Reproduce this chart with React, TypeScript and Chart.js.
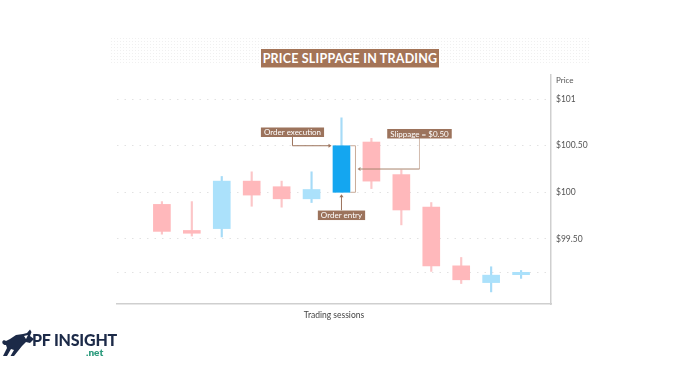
import React, { useEffect, useRef } from "react";
import { Chart, registerables } from "chart.js";

Chart.register(...registerables);

const sessions = [0, 1, 2, 3, 4, 5, 6, 7, 8, 9, 10, 11, 12];
const opens = [99.87, 99.59, 99.61, 100.12, 100.06, 99.93, 100.0, 100.54, 100.19, 99.84, 99.21, 99.03, 99.115];
const closes = [99.58, 99.56, 100.12, 99.97, 99.93, 100.03, 100.5, 100.12, 99.81, 99.21, 99.06, 99.11, 99.14];
const highs = [99.9, 99.9, 100.17, 100.22, 100.12, 100.22, 100.8, 100.58, 100.24, 99.89, 99.3, 99.2, 99.16];
const lows = [99.55, 99.53, 99.52, 99.85, 99.84, 99.89, 100.0, 100.04, 99.65, 99.15, 99.02, 98.93, 99.075];
const highlightIndex = 6;
const tickValues = [99.14, 99.5, 100, 100.5, 101];
const tickLabels = ["", "$99.50", "$100", "$100.50", "$101"];

const PINK = "#ffb8bb";
const PINK_WICK = "#fcc6c8";
const BLUE = "#abe1fb";
const BLUE_WICK = "#a6dbf7";
const DARK_BLUE = "#14a6f0";
const BROWN = "#9c735c";
const FONT = "Lato, 'DejaVu Sans', sans-serif";

function bodyColor(i: number) {
  if (i === highlightIndex) return DARK_BLUE;
  return closes[i] >= opens[i] ? BLUE : PINK;
}
function wickColor(i: number) {
  return closes[i] >= opens[i] ? BLUE_WICK : PINK_WICK;
}

function drawLabel(ctx: CanvasRenderingContext2D, text: string, cx: number, cy: number) {
  ctx.font = `8px ${FONT}`;
  const w = ctx.measureText(text).width + 6;
  const h = 9.5;
  ctx.fillStyle = BROWN;
  ctx.fillRect(cx - w / 2, cy - h / 2, w, h);
  ctx.fillStyle = "#ffffff";
  ctx.textAlign = "center";
  ctx.textBaseline = "middle";
  ctx.fillText(text, cx, cy + 0.5);
}

function arrowHead(ctx: CanvasRenderingContext2D, x: number, y: number, dir: string, color: string) {
  ctx.fillStyle = color;
  ctx.beginPath();
  const s = 3;
  if (dir === "right") {
    ctx.moveTo(x, y);
    ctx.lineTo(x - s, y - s * 0.7);
    ctx.lineTo(x - s, y + s * 0.7);
  } else if (dir === "left") {
    ctx.moveTo(x, y);
    ctx.lineTo(x + s, y - s * 0.7);
    ctx.lineTo(x + s, y + s * 0.7);
  } else {
    ctx.moveTo(x, y);
    ctx.lineTo(x - s * 0.7, y + s);
    ctx.lineTo(x + s * 0.7, y + s);
  }
  ctx.closePath();
  ctx.fill();
}

const annotationPlugin = {
  id: "slippageAnnotations",
  afterDraw(chart: any) {
    const { ctx, scales, chartArea } = chart;
    const x = scales.x;
    const y = scales.y;
    const xc = x.getPixelForValue(sessions[highlightIndex]);
    const yTop = y.getPixelForValue(closes[highlightIndex]);
    const yBot = y.getPixelForValue(opens[highlightIndex]);
    const yMid = (yTop + yBot) / 2;
    ctx.save();
    ctx.lineWidth = 1;

    // Order execution
    ctx.strokeStyle = BROWN;
    ctx.beginPath();
    ctx.moveTo(xc - 49, yTop - 9);
    ctx.lineTo(xc - 49, yTop);
    ctx.lineTo(xc - 12, yTop);
    ctx.stroke();
    arrowHead(ctx, xc - 10, yTop, "right", BROWN);
    drawLabel(ctx, "Order execution", xc - 49, yTop - 13.5);

    // Order entry
    ctx.strokeStyle = BROWN;
    ctx.beginPath();
    ctx.moveTo(xc, yBot + 18);
    ctx.lineTo(xc, yBot + 4);
    ctx.stroke();
    arrowHead(ctx, xc, yBot + 2, "up", BROWN);
    drawLabel(ctx, "Order entry", xc, yBot + 23);

    // Bracket
    ctx.strokeStyle = "#c9ab99";
    ctx.beginPath();
    ctx.moveTo(xc + 9, yTop);
    ctx.lineTo(xc + 14, yTop);
    ctx.lineTo(xc + 14, yBot);
    ctx.lineTo(xc + 9, yBot);
    ctx.stroke();

    // Slippage
    ctx.strokeStyle = "#d2bcae";
    ctx.beginPath();
    ctx.moveTo(xc + 78, yTop - 8);
    ctx.lineTo(xc + 78, yMid);
    ctx.stroke();
    ctx.strokeStyle = "#a9836d";
    ctx.beginPath();
    ctx.moveTo(xc + 78, yMid);
    ctx.lineTo(xc + 19, yMid);
    ctx.stroke();
    arrowHead(ctx, xc + 16, yMid, "left", "#a9836d");
    drawLabel(ctx, "Slippage = $0.50", xc + 78, yTop - 12);

    // Axis caption
    ctx.font = `8px ${FONT}`;
    ctx.fillStyle = "#555555";
    ctx.textAlign = "left";
    ctx.textBaseline = "middle";
    ctx.fillText("Price", chartArea.right + 5, chartArea.top + 5);
    ctx.restore();
  },
};

function ChartView() {
  const ref = useRef<HTMLCanvasElement | null>(null);
  useEffect(() => {
    if (!ref.current) return;
    const chart = new Chart(ref.current, {
      type: "bar",
      data: {
        datasets: [
          {
            label: "Body",
            data: sessions.map((s, i) => ({ x: s, y: [opens[i], closes[i]] })) as any,
            backgroundColor: sessions.map((_, i) => bodyColor(i)),
            borderWidth: 0,
            barThickness: 17,
            grouped: false,
            order: 1,
          } as any,
          {
            label: "Wick",
            data: sessions.map((s, i) => ({ x: s, y: [lows[i], highs[i]] })) as any,
            backgroundColor: sessions.map((_, i) => wickColor(i)),
            borderWidth: 0,
            barThickness: 1.5,
            grouped: false,
            order: 2,
          } as any,
        ],
      },
      options: {
        responsive: false,
        animation: false,
        layout: { padding: { left: 117, top: 75, right: 0, bottom: 45 } },
        plugins: { legend: { display: false }, tooltip: { enabled: false } },
        scales: {
          x: {
            type: "linear",
            min: -1.5,
            max: 13,
            offset: false,
            ticks: { display: false },
            grid: { display: false, drawTicks: false },
            border: { display: true, color: "#cfcfcf", width: 1.5 },
            title: {
              display: true,
              text: "Trading sessions",
              color: "#444444",
              font: { family: FONT, size: 8.5 },
              padding: 0,
            },
            afterFit: (s: any) => {
              s.height = 16;
            },
          },
          y: {
            position: "right",
            min: 98.8,
            max: 101.26,
            afterBuildTicks: (s: any) => {
              s.ticks = tickValues.map((v) => ({ value: v }));
            },
            ticks: {
              padding: 5,
              color: "#555555",
              font: { family: FONT, size: 8.5 },
              callback: (v: any) => {
                const idx = tickValues.indexOf(Number(v));
                return idx >= 0 ? tickLabels[idx] : "";
              },
            },
            grid: { color: "#e2e2e2", lineWidth: 1, drawTicks: false },
            border: { display: true, color: "#cfcfcf", width: 1.5, dash: [1.5, 6] },
            afterFit: (s: any) => {
              s.width = 149;
            },
          },
        },
      } as any,
      plugins: [annotationPlugin],
    });
    return () => chart.destroy();
  }, []);
  return (
    <canvas
      ref={ref}
      width={700}
      height={365}
      style={{ position: "absolute", left: 0, top: 0, width: 700, height: 365 }}
    />
  );
}

export default function App() {
  return (
    <div
      style={{
        position: "absolute",
        left: 0,
        top: 0,
        width: 700,
        height: 365,
        background: "#ffffff",
        overflow: "hidden",
        fontFamily: FONT,
      }}
    >
      <div
        style={{
          position: "absolute",
          left: 110,
          top: 37,
          width: 480,
          height: 28,
          backgroundImage: "radial-gradient(#f0f0f0 0.7px, transparent 1px)",
          backgroundSize: "3px 3px",
        }}
      />
      <div
        style={{
          position: "absolute",
          left: 261,
          top: 49,
          width: 178,
          height: 19,
          background: "#a47457",
          borderBottom: "1px solid #d8bfae",
          boxSizing: "border-box",
          color: "#ffffff",
          fontWeight: 700,
          fontSize: 12.5,
          lineHeight: "19px",
          textAlign: "center",
          letterSpacing: 0.2,
          whiteSpace: "nowrap",
        }}
      >
        PRICE SLIPPAGE IN TRADING
      </div>
      <ChartView />
      <svg
        style={{ position: "absolute", left: 1, top: 329 }}
        width={34}
        height={30}
        viewBox="0 0 34 30"
      >
        <path
          d="M2,15 C0,12 3,10 5,12 L9,10 L15,6 L22,5 L26,4 L29,0.5 L30.5,3 L29,7 L33,10 L29,14 L25,13 L21,17 L17,22 L13,27 L9.5,27 L13,21 L10,20 L6,27 L2,27 L6,19 L5,16 L3.5,16 Z"
          fill="#1c2a48"
        />
        <path d="M23,7 L27,6 L25,10 Z" fill="#ffffff" />
      </svg>
      <div
        style={{
          position: "absolute",
          left: 32,
          top: 331,
          fontSize: 16,
          fontWeight: 900,
          color: "#1c2a48",
          lineHeight: "18px",
          whiteSpace: "nowrap",
          letterSpacing: -0.2,
        }}
      >
        PF INSIGHT
      </div>
      <div
        style={{
          position: "absolute",
          left: 86,
          top: 347,
          fontSize: 10,
          fontWeight: 800,
          color: "#2e9c7e",
          lineHeight: "11px",
          whiteSpace: "nowrap",
        }}
      >
        .net
      </div>
    </div>
  );
}
